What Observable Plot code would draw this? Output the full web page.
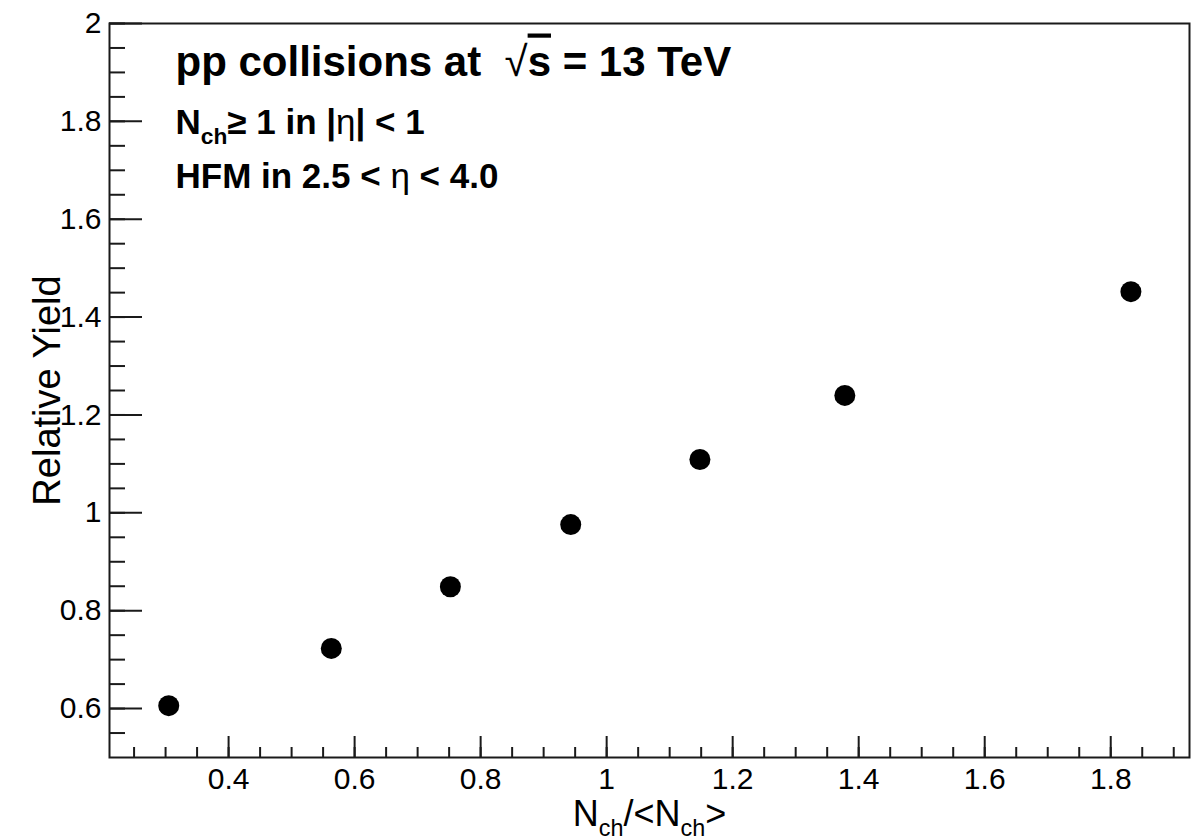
<!DOCTYPE html>
<html>
<head>
<meta charset="utf-8">
<script src="https://cdn.jsdelivr.net/npm/d3@7"></script>
<script src="https://cdn.jsdelivr.net/npm/@observablehq/plot@0.6"></script>
<style>
  body { margin: 0; background: #fff; }
  #chart svg { display: block; }
  #chart g[aria-label*="tick label"] text, #chart g[aria-label*="tick label"] { font-size: 30px !important; }
</style>
</head>
<body>
<div id="chart"></div>
<script>
// ---- data ----
const nchRatio = [0.305, 0.563, 0.752, 0.943, 1.148, 1.378, 1.832];
const relYield = [0.606, 0.723, 0.849, 0.976, 1.109, 1.240, 1.452];

// ---- axis ticks ----
const xMajorTicks = [0.4, 0.6, 0.8, 1.0, 1.2, 1.4, 1.6, 1.8];
const xMinorTicks = [0.25, 0.3, 0.35, 0.4, 0.45, 0.5, 0.55, 0.6, 0.65, 0.7, 0.75, 0.8, 0.85, 0.9, 0.95, 1.0,
  1.05, 1.1, 1.15, 1.2, 1.25, 1.3, 1.35, 1.4, 1.45, 1.5, 1.55, 1.6, 1.65, 1.7, 1.75, 1.8, 1.85, 1.9];
const yMajorTicks = [0.6, 0.8, 1.0, 1.2, 1.4, 1.6, 1.8, 2.0];
const yMinorTicks = [0.55, 0.6, 0.65, 0.7, 0.75, 0.8, 0.85, 0.9, 0.95, 1.0, 1.05, 1.1, 1.15, 1.2, 1.25, 1.3,
  1.35, 1.4, 1.45, 1.5, 1.55, 1.6, 1.65, 1.7, 1.75, 1.8, 1.85, 1.9, 1.95, 2.0];

// ---- texts ----
const xTitle = "Nch/<Nch>";
const yTitle = "Relative Yield";
const line1 = "pp collisions at  √s = 13 TeV";
const line2 = "Nch≥ 1 in |η| < 1";
const line3 = "HFM in 2.5 < η < 4.0";

const data = nchRatio.map((x, i) => ({ x, y: relYield[i] }));
const fmt = d => String(+(+d).toFixed(2));
const ink = "#1a1a1a";

const chart = Plot.plot({
  width: 1197,
  height: 840,
  marginLeft: 109,
  marginRight: 8,
  marginTop: 23,
  marginBottom: 83,
  x: { domain: [0.211, 1.925], label: null },
  y: { domain: [0.5, 2.0], label: null },
  style: { fontFamily: "'Liberation Sans', Arial, Helvetica, sans-serif", fontSize: "30px", background: "#fff", color: ink },
  marks: [
    // minor ticks (inward)
    Plot.axisX(xMinorTicks, { anchor: "bottom", tickSize: -10, tickFormat: () => "", stroke: ink, strokeWidth: 2, label: null }),
    Plot.axisY(yMinorTicks, { anchor: "left", tickSize: -16, tickFormat: () => "", stroke: ink, strokeWidth: 2, label: null }),
    // major ticks (inward)
    Plot.axisX(xMajorTicks, { anchor: "bottom", tickSize: -21, tickFormat: () => "", stroke: ink, strokeWidth: 2, label: null }),
    Plot.axisY(yMajorTicks, { anchor: "left", tickSize: -33, tickFormat: () => "", stroke: ink, strokeWidth: 2, label: null }),
    // tick labels
    Plot.axisX(xMajorTicks, { anchor: "bottom", tickSize: 0, tickPadding: 10, tickFormat: fmt, fontSize: 30, fill: "#000", label: null }),
    Plot.axisY(yMajorTicks, { anchor: "left", tickSize: 0, tickPadding: 8, tickFormat: fmt, fontSize: 30, fill: "#000", label: null }),
    Plot.frame({ stroke: ink, strokeWidth: 2 }),
    // data points
    Plot.dot(data, { x: "x", y: "y", r: 10.5, fill: "#000", stroke: "none" }),
    // axis titles
    Plot.text([xTitle], { frameAnchor: "bottom", textAnchor: "middle", lineAnchor: "bottom", dy: 68, fontSize: 36, fill: "#000" }),
    Plot.text([yTitle], { frameAnchor: "left", textAnchor: "middle", lineAnchor: "bottom", rotate: -90, dx: -50, fontSize: 38, fill: "#000" }),
    // annotations
    Plot.text([line1], { frameAnchor: "top-left", textAnchor: "start", lineAnchor: "bottom", dx: 66, dy: 52, fontSize: 42, fontWeight: "bold", fill: "#000" }),
    Plot.text([line2], { frameAnchor: "top-left", textAnchor: "start", lineAnchor: "bottom", dx: 66, dy: 110, fontSize: 35, fontWeight: "bold", fill: "#000" }),
    Plot.text([line3], { frameAnchor: "top-left", textAnchor: "start", lineAnchor: "bottom", dx: 66, dy: 164, fontSize: 35, fontWeight: "bold", fill: "#000" })
  ]
});

// ---- rich text (subscripts, overline) applied to the rendered text ----
const rich = {
  [xTitle]: { base: 36, segs: [{ t: "N" }, { t: "ch", sub: true }, { t: "/<N" }, { t: "ch", sub: true }, { t: ">" }] },
  [line1]: { base: 42, segs: [{ t: "pp collisions at\u00a0\u00a0" }, { t: "√", weight: "normal" }, { t: "s", over: true }, { t: " = 13 TeV" }] },
  [line2]: { base: 35, segs: [{ t: "N" }, { t: "ch", sub: true }, { t: "≥ 1 in |" }, { t: "η", weight: "normal" }, { t: "| < 1" }] },
  [line3]: { base: 35, segs: [{ t: "HFM in 2.5 < " }, { t: "η", weight: "normal" }, { t: " < 4.0" }] }
};
const NS = "http://www.w3.org/2000/svg";
d3.select(chart).selectAll("text").each(function () {
  const spec = rich[this.textContent];
  if (!spec) return;
  this.textContent = "";
  let shift = 0;
  for (const s of spec.segs) {
    const ts = document.createElementNS(NS, "tspan");
    const want = s.sub ? spec.base * 0.3 : 0;
    if (want !== shift) { ts.setAttribute("dy", want - shift); shift = want; }
    if (s.sub) ts.setAttribute("font-size", spec.base * 0.65);
    if (s.over) ts.setAttribute("text-decoration", "overline");
    if (s.weight) ts.setAttribute("font-weight", s.weight);
    ts.textContent = s.t;
    this.appendChild(ts);
  }
});

document.getElementById("chart").appendChild(chart);
</script>
</body>
</html>
